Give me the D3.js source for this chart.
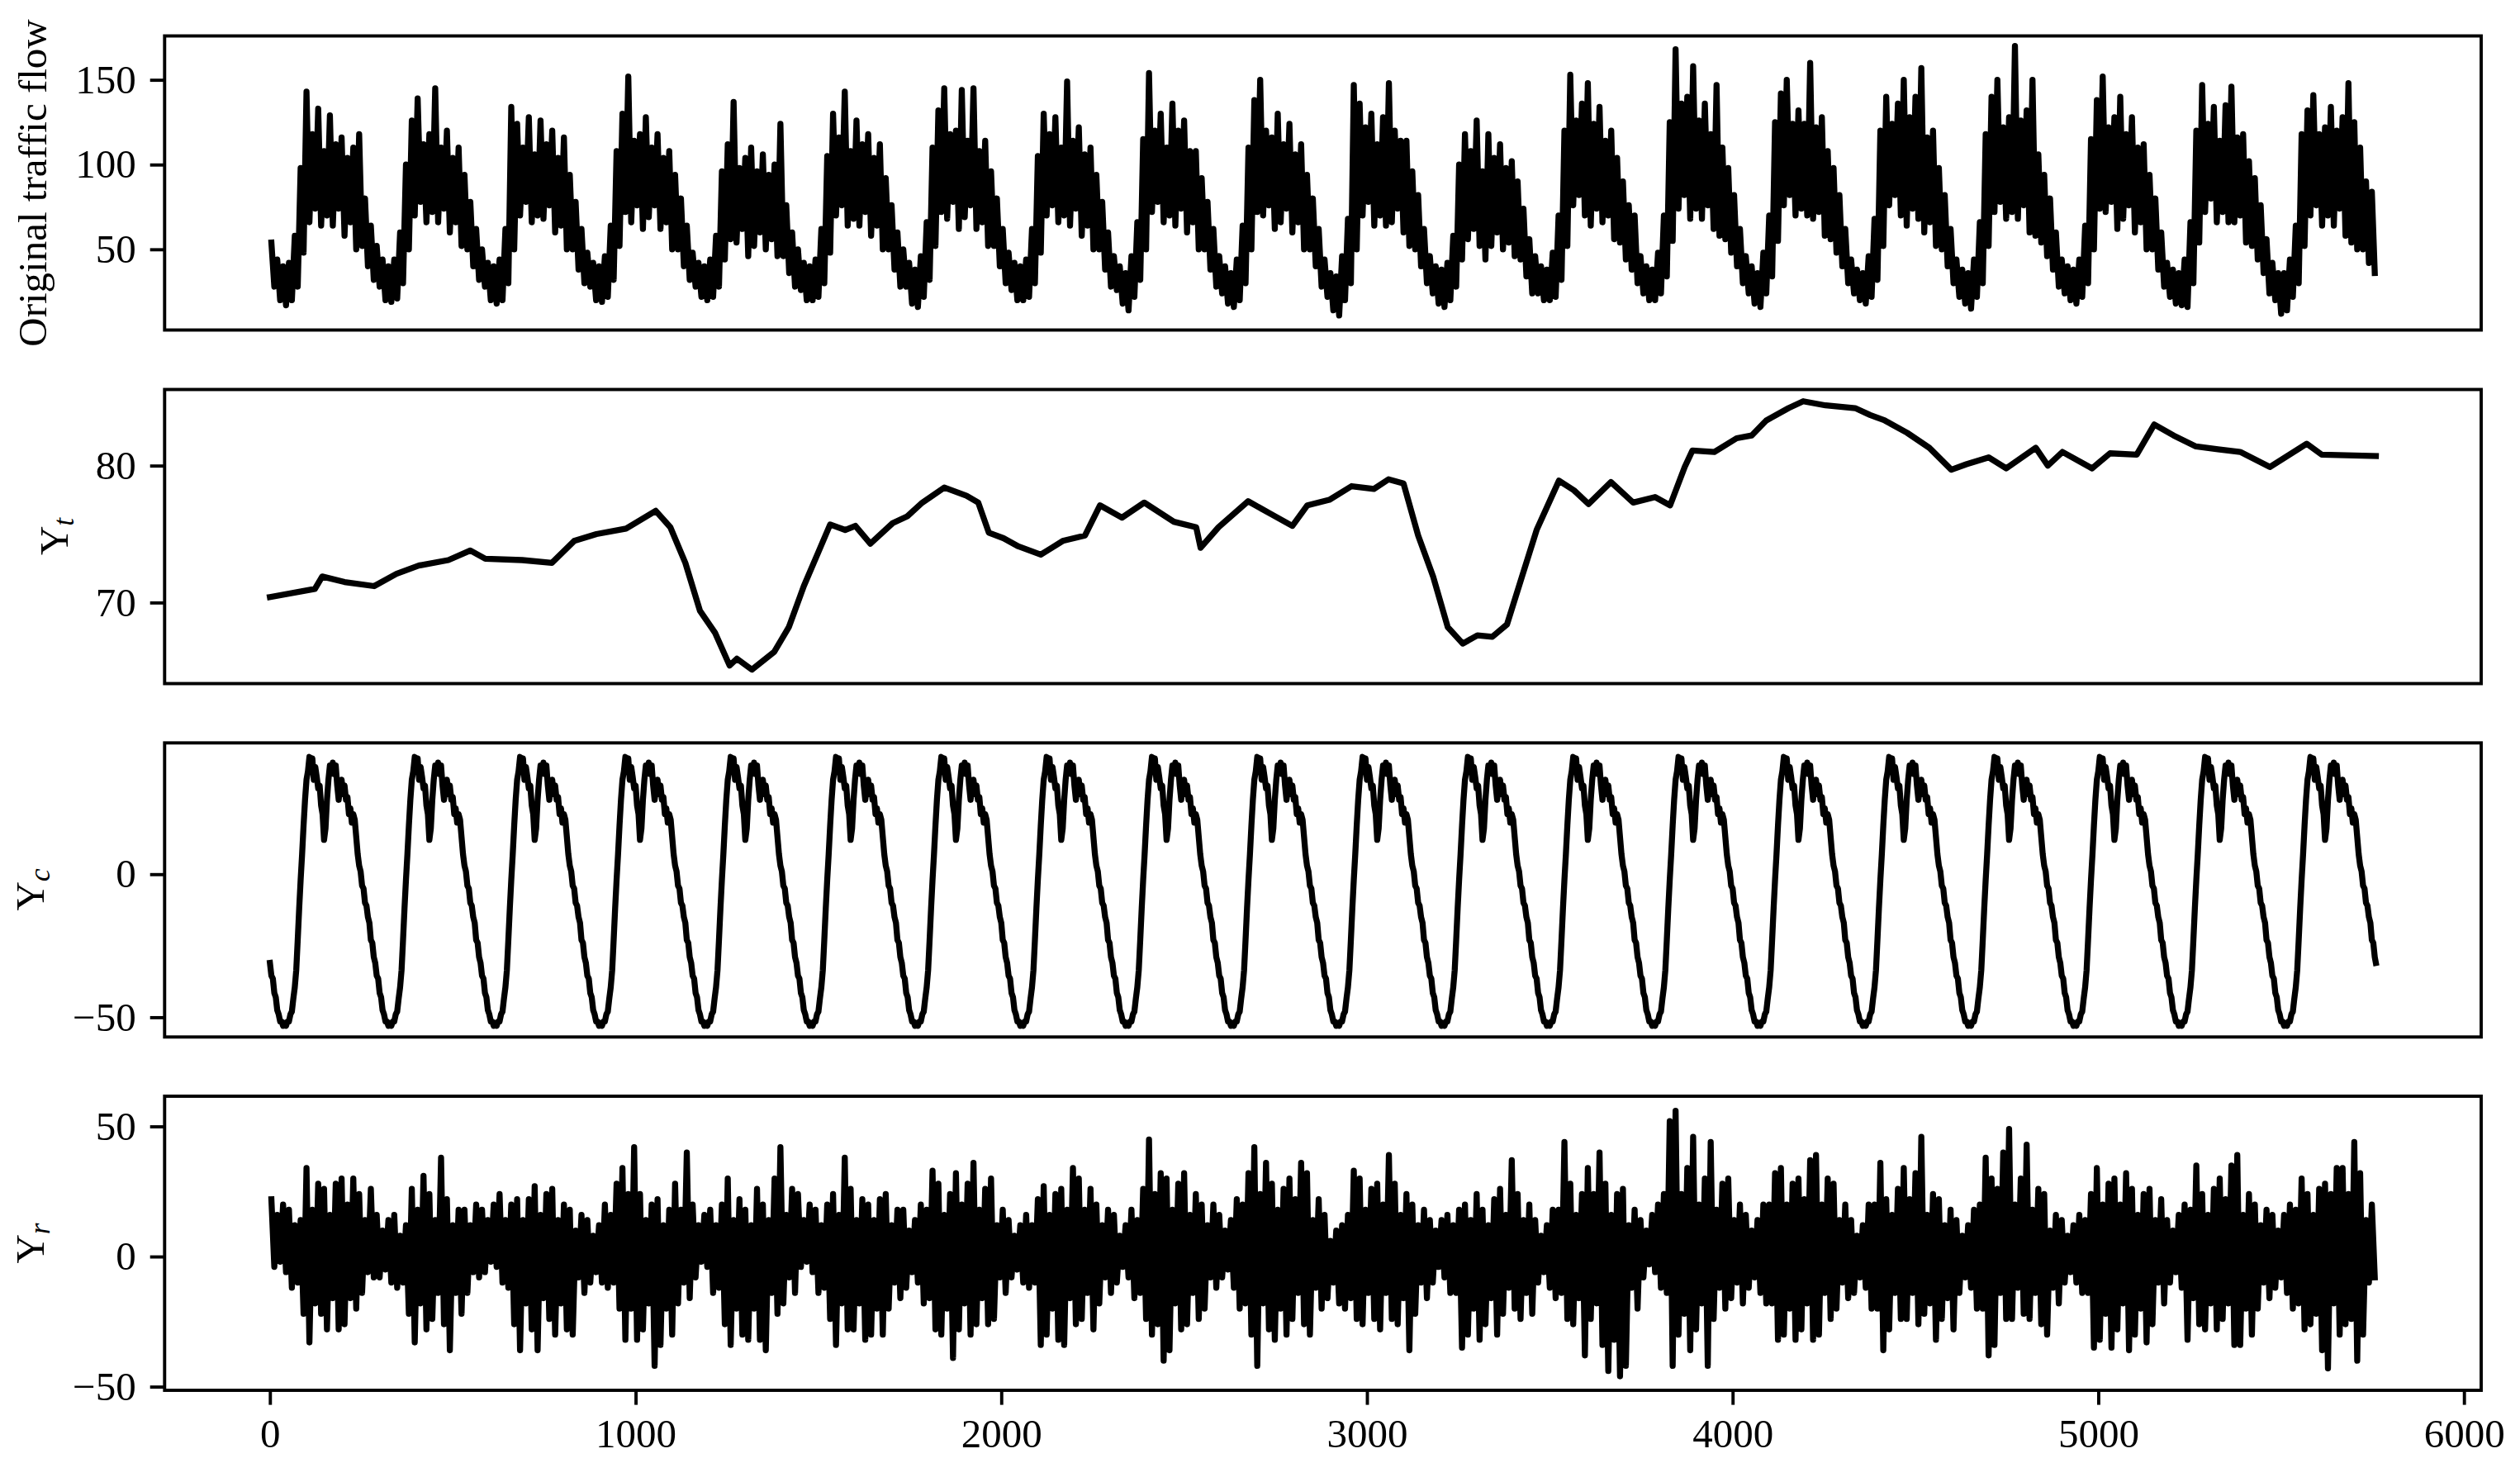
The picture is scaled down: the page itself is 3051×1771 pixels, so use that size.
<!DOCTYPE html>
<html>
<head>
<meta charset="utf-8">
<title>Traffic flow decomposition</title>
<script src="https://cdn.jsdelivr.net/npm/d3@7/dist/d3.min.js"></script>
<style>
  html, body { margin: 0; padding: 0; background: #ffffff; }
  svg { display: block; }
</style>
</head>
<body>
<svg id="chart" width="3051" height="1771"></svg>
<script>
// ---------------- data ----------------
const sampleCount = 5760;   // 20 days of 5-minute samples, x = 0 .. 5759
const binWidth = 16;        // samples per envelope bin (80 minutes, 18 bins per day)

// Original traffic flow: band top / bottom for each bin, one row per day
const flowHighByDay = [
  [54,44,40,42,58,98,143,118,133,108,129,112,116,104,110,118,80,64],
  [52,44,40,44,60,100,126,139,112,118,145,110,120,104,110,94,78,62],
  [50,42,40,44,62,134,124,110,128,106,126,112,120,104,116,94,78,62],
  [48,42,40,46,64,108,130,152,114,118,128,110,118,104,108,94,80,64],
  [48,42,40,44,58,96,112,137,98,104,110,96,106,94,100,124,76,60],
  [50,42,40,44,62,105,130,116,143,108,126,112,118,104,112,92,76,60],
  [50,42,38,46,66,110,132,145,118,120,144,114,145,108,114,96,80,62],
  [48,42,40,44,62,105,130,118,128,110,149,114,122,106,110,94,78,60],
  [46,40,36,46,66,115,154,120,130,110,136,120,126,108,108,92,78,62],
  [46,40,36,44,64,110,138,150,120,116,130,112,124,106,112,94,80,62],
  [44,36,34,46,68,147,136,122,130,112,128,148,120,114,114,96,82,62],
  [46,40,38,42,58,100,118,108,126,96,118,104,112,98,102,90,74,56],
  [46,40,38,48,70,120,153,126,136,148,124,134,114,120,104,90,76,70],
  [46,40,38,48,70,125,168,136,140,158,126,136,118,147,110,98,82,62],
  [46,40,36,48,70,125,142,150,124,132,124,160,122,128,108,98,82,62],
  [44,38,36,46,68,120,140,124,136,150,128,140,157,116,120,98,82,62],
  [44,38,36,44,66,118,140,150,122,128,170,126,132,150,106,94,80,60],
  [44,40,38,44,64,115,138,152,122,128,140,118,128,110,112,94,80,60],
  [42,38,36,44,66,120,147,124,134,114,135,146,116,118,102,92,76,56],
  [42,36,36,44,64,118,132,141,118,122,134,120,128,148,125,110,90,84]
];
const flowLowByDay = [
  [28,20,17,20,28,48,66,74,64,70,64,74,58,66,50,52,40,32],
  [28,20,19,21,30,50,70,78,66,72,66,74,60,66,52,50,40,32],
  [28,20,18,20,30,50,70,78,66,70,68,76,60,64,50,50,38,30],
  [28,20,19,22,32,52,72,66,76,62,69,76,62,66,50,50,40,32],
  [28,22,20,22,28,44,56,54,62,46,52,60,50,56,46,46,36,28],
  [26,20,20,22,30,48,70,76,64,68,64,72,58,64,50,50,38,28],
  [28,18,16,22,32,52,72,68,78,62,69,76,62,66,52,52,40,30],
  [26,20,20,22,30,48,70,76,66,70,64,74,58,64,50,50,38,28],
  [26,18,14,22,32,50,72,78,66,70,64,74,60,66,50,50,38,28],
  [24,18,16,20,30,50,72,70,76,62,66,74,60,66,50,50,40,28],
  [22,14,11,20,30,50,70,78,64,70,64,66,74,60,52,50,40,30],
  [24,18,16,20,28,44,56,62,52,44,52,60,50,54,46,44,34,24],
  [24,20,20,22,32,52,76,82,70,64,74,66,70,56,54,44,38,30],
  [24,20,20,24,34,55,74,82,68,74,68,76,62,58,56,48,40,30],
  [24,18,16,24,34,55,76,82,70,74,70,68,72,58,56,48,40,30],
  [24,20,18,22,32,52,76,82,70,64,74,68,60,66,52,50,40,30],
  [22,18,15,22,30,52,72,78,68,72,68,76,60,58,54,46,38,28],
  [24,20,18,22,30,50,74,72,78,62,68,76,60,66,50,50,38,28],
  [22,18,17,16,30,54,72,80,66,72,66,66,70,54,52,44,36,24],
  [20,12,14,22,30,52,70,76,64,70,64,74,58,54,50,50,42,36]
];

// Trend Y_t: sample index and value
const trendIndex = [0,123,143,204,285,346,407,488,548,589,690,771,832,893,974,1055,1095,1136,1176,1217,1257,1277,1318,1379,1419,1460,1500,1532,1573,1601,1642,1703,1743,1784,1844,1905,1937,1966,2006,2047,2108,2168,2229,2270,2330,2391,2472,2533,2545,2594,2675,2735,2796,2837,2897,2958,3019,3059,3100,3140,3181,3221,3262,3302,3343,3383,3424,3464,3525,3566,3606,3667,3728,3788,3829,3869,3890,3950,4011,4052,4092,4153,4193,4254,4335,4376,4416,4477,4538,4598,4639,4700,4748,4829,4862,4902,4983,5032,5105,5153,5206,5267,5327,5388,5469,5570,5611,5759];
const trendValue = [70.4,71.0,71.9,71.5,71.2,72.1,72.7,73.1,73.8,73.2,73.1,72.9,74.5,75.0,75.4,76.7,75.5,72.9,69.4,67.8,65.4,65.9,65.1,66.4,68.2,71.2,73.7,75.7,75.3,75.6,74.3,75.8,76.3,77.3,78.4,77.8,77.3,75.1,74.7,74.1,73.5,74.5,74.9,77.1,76.2,77.3,75.9,75.5,74.0,75.5,77.4,76.5,75.6,77.1,77.5,78.5,78.3,79.0,78.7,74.9,71.9,68.2,67.0,67.6,67.5,68.4,71.9,75.3,78.9,78.2,77.2,78.8,77.3,77.7,77.1,79.9,81.1,81.0,82.0,82.2,83.3,84.2,84.7,84.4,84.2,83.7,83.3,82.4,81.3,79.7,80.1,80.6,79.8,81.3,80.0,81.0,79.8,80.9,80.8,83.0,82.2,81.4,81.2,81.0,79.9,81.6,80.8,80.7];

// Seasonal Y_c: one daily cycle (every 4 samples); the same cycle repeats each day
const seasonalStep = 4;
const seasonalCycle = [-31,-35.5,-36.5,-41.5,-43,-47.5,-49,-51.5,-51.5,-53,-52,-53,-51.5,-51.5,-49,-48,-43.5,-39.5,-33.5,-23,-12,-2,7,17,26,33,36,41,38,40.5,33,37.5,34,30,31,24,21,12,16,26,33,38,36,39,35,38,31,26,30,33,28,31,26,27,21,23,18,21,19,13,7,3,1,-4,-5,-10,-11,-15,-17,-23,-24,-29];
const seasonalDays = 20;

// Residual Y_r: band top / bottom for each bin, one row per day
const residHighByDay = [
  [22,16,20,18,12,14,34,18,28,26,16,28,30,20,30,24,14,26],
  [16,10,14,16,8,12,26,18,31,24,14,38,22,12,18,18,12,20],
  [18,14,20,24,14,20,22,14,22,27,16,24,26,14,20,18,10,16],
  [14,8,12,20,16,28,34,24,42,24,14,20,22,12,18,28,18,40],
  [20,12,16,18,12,20,30,14,22,18,12,26,20,14,30,42,16,26],
  [24,14,20,18,12,20,24,16,38,26,14,22,20,14,22,24,12,18],
  [18,10,14,20,18,33,28,16,24,32,20,28,36,18,26,30,12,18],
  [14,8,12,16,12,22,27,16,24,26,18,34,30,18,26,20,12,18],
  [16,8,12,18,14,26,45,24,32,30,18,28,32,16,24,20,12,20],
  [16,10,14,22,20,32,42,24,36,28,18,26,30,22,36,32,14,22],
  [16,6,10,12,16,33,30,18,26,28,20,39,28,16,24,20,12,18],
  [14,10,14,16,12,18,20,14,24,18,12,22,26,16,37,24,14,20],
  [14,8,12,18,18,44,28,16,24,34,24,40,28,16,24,26,12,18],
  [14,10,16,20,24,52,56,24,34,46,20,30,44,18,28,30,14,20],
  [16,10,14,20,20,32,34,20,28,30,22,37,39,20,30,28,14,20],
  [14,8,12,20,20,36,22,16,26,34,22,32,46,16,24,22,12,18],
  [14,8,12,18,20,38,30,26,40,49,20,30,43,18,26,24,10,16],
  [14,8,12,16,14,24,34,20,28,30,20,32,26,16,24,26,14,22],
  [14,10,16,20,18,35,24,16,26,30,22,35,39,16,24,20,12,18],
  [16,10,16,20,18,30,24,16,26,28,24,34,34,24,44,32,14,20]
];
const residLowByDay = [
  [-4,-2,-6,-12,-10,-22,-33,-18,-22,-28,-16,-28,-26,-16,-20,-14,-6,-8],
  [-8,-5,-10,-12,-10,-22,-33,-18,-28,-24,-14,-26,-36,-14,-22,-14,-6,-8],
  [-6,-2,-4,-10,-12,-26,-36,-18,-28,-36,-16,-24,-30,-18,-28,-30,-8,-14],
  [-10,-6,-10,-12,-10,-20,-32,-20,-32,-28,-18,-42,-34,-20,-30,-18,-10,-16],
  [-8,-2,-4,-14,-12,-26,-34,-20,-30,-32,-20,-32,-36,-14,-22,-18,-8,-14],
  [-4,-2,-6,-14,-12,-24,-34,-18,-28,-28,-18,-32,-30,-20,-30,-20,-10,-16],
  [-12,-6,-10,-18,-16,-28,-30,-20,-39,-28,-18,-30,-26,-16,-26,-24,-8,-14],
  [-8,-5,-10,-12,-10,-34,-30,-20,-32,-34,-16,-26,-24,-14,-28,-18,-8,-14],
  [-10,-4,-8,-16,-14,-24,-30,-26,-40,-36,-18,-28,-26,-14,-24,-20,-8,-12],
  [-8,-5,-12,-20,-18,-30,-42,-18,-28,-32,-20,-30,-24,-14,-26,-30,-12,-20],
  [-16,-10,-18,-20,-16,-24,-26,-14,-24,-28,-14,-24,-26,-16,-36,-22,-10,-16],
  [-10,-4,-8,-14,-14,-35,-30,-20,-32,-26,-16,-30,-22,-12,-20,-24,-14,-22],
  [-10,-6,-12,-16,-14,-24,-26,-16,-38,-24,-18,-34,-44,-32,-46,-42,-12,-20],
  [-8,-3,-6,-12,-14,-42,-30,-22,-36,-28,-18,-42,-24,-12,-20,-16,-10,-18],
  [-12,-8,-14,-18,-18,-32,-30,-20,-32,-28,-18,-32,-30,-14,-24,-20,-10,-16],
  [-14,-8,-12,-20,-20,-36,-28,-14,-24,-24,-14,-26,-22,-18,-32,-24,-16,-28],
  [-14,-8,-12,-20,-20,-38,-34,-14,-24,-24,-12,-22,-24,-14,-26,-30,-12,-18],
  [-10,-6,-10,-14,-14,-35,-32,-22,-35,-28,-18,-36,-30,-20,-33,-26,-10,-18],
  [-10,-6,-12,-32,-16,-26,-28,-18,-28,-24,-18,-34,-34,-20,-30,-20,-10,-16],
  [-12,-8,-14,-20,-18,-28,-26,-22,-36,-43,-18,-30,-26,-24,-40,-30,-10,-8]
];

const xTickValues = [0, 1000, 2000, 3000, 4000, 5000, 6000];
const panelTicks = [[50, 100, 150], [70, 80], [-50, 0], [-50, 0, 50]];
const panelLabels = [
  { main: "Original traffic flow", sub: "" },
  { main: "Y", sub: "t" },
  { main: "Y", sub: "c" },
  { main: "Y", sub: "r" }
];

// ---------------- layout ----------------
const W = 3051, H = 1771;
const fontFamily = "'Liberation Serif','Times New Roman',Times,serif";
const frame = { left: 199.3, right: 3004, tops: [43.5, 471.5, 899.3, 1327], height: 356 };
const yDomains = [[2.4, 175.9], [64.08, 85.56], [-56.9, 45.9], [-51.4, 61.6]];
const xDomain = [-288, 6047];
const labelPos = [ { x: 56, y: 221.5 }, { x: 81.5, y: 649.5 }, { x: 53, y: 1077 }, { x: 53, y: 1505 } ];
const lineWidth = 7.3, frameWidth = 3.9, tickLen = 17.6, tickPad = 17, fontSize = 49;

// ---------------- series construction ----------------
function envelopeSeries(highByDay, lowByDay) {
  const hi = highByDay.flat(), lo = lowByDay.flat();
  const pts = [];
  hi.forEach((h, i) => {
    pts.push([i * binWidth + binWidth * 0.25, h]);
    pts.push([i * binWidth + binWidth * 0.75, lo[i]]);
  });
  return pts;
}
const flowSeries = envelopeSeries(flowHighByDay, flowLowByDay);
const trendSeries = trendIndex.map((t, i) => [t, trendValue[i]]);
const seasonalSeries = [];
for (let d = 0; d < seasonalDays; d++) {
  seasonalCycle.forEach((v, k) => seasonalSeries.push([d * 288 + k * seasonalStep, v]));
}
seasonalSeries.push([sampleCount - 1, seasonalCycle[0]]);
const residSeries = envelopeSeries(residHighByDay, residLowByDay);
const allSeries = [flowSeries, trendSeries, seasonalSeries, residSeries];

// ---------------- drawing ----------------
const svg = d3.select("#chart");
svg.append("rect").attr("width", W).attr("height", H).attr("fill", "#ffffff");

const x = d3.scaleLinear().domain(xDomain).range([frame.left, frame.right]);
const fmt = d => (d < 0 ? "\u2212" + Math.abs(d) : String(d));

function styleAxis(g) {
  g.attr("font-family", fontFamily).attr("font-size", fontSize);
  g.select(".domain").remove();
  g.selectAll(".tick line").attr("stroke", "#000").attr("stroke-width", frameWidth);
  g.selectAll(".tick text").attr("fill", "#000")
    .style("font-family", fontFamily).style("font-size", fontSize + "px");
}

allSeries.forEach((series, i) => {
  const top = frame.tops[i], bottom = top + frame.height;
  const y = d3.scaleLinear().domain(yDomains[i]).range([bottom, top]);

  const line = d3.line().x(d => x(d[0])).y(d => y(d[1]));
  svg.append("path")
    .datum(series)
    .attr("d", line)
    .attr("fill", "none")
    .attr("stroke", "#000")
    .attr("stroke-width", lineWidth)
    .attr("stroke-linejoin", "round")
    .attr("stroke-linecap", "square");

  const yAxis = d3.axisLeft(y).tickValues(panelTicks[i]).tickSize(tickLen).tickPadding(tickPad).tickFormat(fmt);
  const yG = svg.append("g").attr("transform", `translate(${frame.left},0)`).call(yAxis);
  styleAxis(yG);

  if (i === allSeries.length - 1) {
    const xAxis = d3.axisBottom(x).tickValues(xTickValues).tickSize(tickLen).tickPadding(tickPad).tickFormat(fmt);
    const xG = svg.append("g").attr("transform", `translate(0,${bottom})`).call(xAxis);
    styleAxis(xG);
  }

  svg.append("rect")
    .attr("x", frame.left).attr("y", top)
    .attr("width", frame.right - frame.left).attr("height", frame.height)
    .attr("fill", "none").attr("stroke", "#000").attr("stroke-width", frameWidth);

  const lab = panelLabels[i];
  const t = svg.append("text")
    .attr("transform", `translate(${labelPos[i].x},${labelPos[i].y}) rotate(-90)`)
    .attr("text-anchor", "middle")
    .style("font-family", fontFamily)
    .style("font-size", fontSize + "px")
    .attr("fill", "#000");
  t.append("tspan").text(lab.main);
  if (lab.sub) {
    t.append("tspan").attr("dy", 7).style("font-size", "35px").style("font-style", "italic").text(lab.sub);
  }
});
</script>
</body>
</html>
